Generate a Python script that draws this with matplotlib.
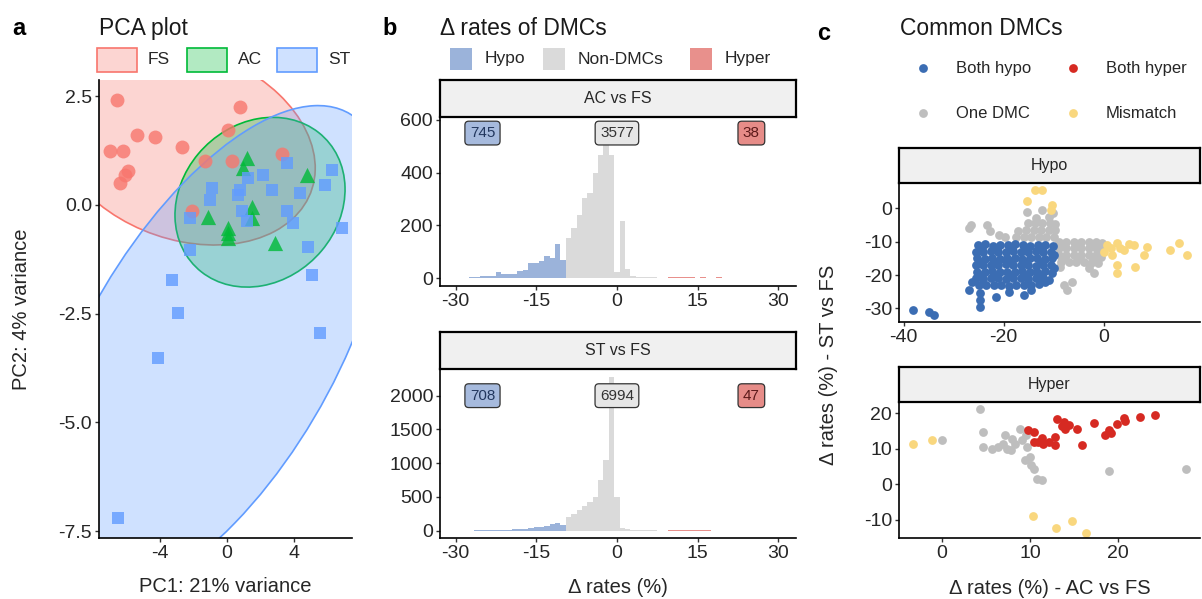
import matplotlib
matplotlib.use('Agg')
import matplotlib.pyplot as plt
from matplotlib.patches import Ellipse, Rectangle

plt.rcParams['font.family'] = ['Liberation Sans', 'DejaVu Sans']
plt.rcParams['axes.linewidth'] = 1.2

# ---------------- a: PCA of the samples
fs_pc1 = [-6.58, -5.39, -4.30, -6.99, -6.19, -5.89, -6.39, -6.09, -2.71, -1.31, 0.28, 0.04, 0.78, 3.26, -2.11]
fs_pc2 = [2.41, 1.61, 1.55, 1.24, 1.24, 0.77, 0.50, 0.69, 1.34, 1.00, 1.00, 1.72, 2.26, 1.16, -0.15]
ac_pc1 = [1.18, 0.95, 4.76, -1.11, 1.47, 1.47, 0.08, 0.08, 0.08, 2.87]
ac_pc2 = [1.07, 0.85, 0.69, -0.27, -0.04, -0.31, -0.54, -0.65, -0.77, -0.88]
st_pc1 = [-0.91, -1.01, 2.17, 1.27, 2.67, 3.56, 4.36, 6.25, 5.85, 6.85, 0.68, 0.88, 1.18,
          3.56, 3.96, -2.21, -2.21, 4.86, 0.78, -3.30, 5.06, -2.93, -4.12, 5.55, -6.51]
st_pc2 = [0.38, 0.11, 0.69, 0.61, 0.34, 0.96, 0.27, 0.80, 0.46, -0.54, 0.23, -0.15, -0.38,
          -0.15, -0.42, -0.31, -1.03, -0.96, 0.34, -1.72, -1.61, -2.48, -3.52, -2.94, -7.20]

# 95% ellipses per group: centre, (width, height), angle
ell_center = {'FS': (-2.57, 1.38), 'AC': (1.97, 0.06), 'ST': (-1.08, -3.41)}
ell_size = {'FS': (15.71, 4.47), 'AC': (10.17, 3.85), 'ST': (22.41, 8.40)}
ell_angle = {'FS': -4.25, 'AC': 3.9, 'ST': 21.7}

group_colors = {'FS': '#F8766D', 'AC': '#00BA38', 'ST': '#619CFF'}

# ---------------- b: histograms of delta methylation rate (1% bins)
ac_bins = list(range(-27, 26))
ac_counts = [4, 5, 9, 9, 9, 23, 15, 15, 15, 25, 32, 57, 57, 63, 85, 76, 130, 70,
             152, 190, 240, 304, 323, 399, 468, 506, 468, 22, 215, 34, 8, 5, 4, 3, 3, 2, 2,
             3, 3, 4, 3, 3, 2, 3, 2, 2, 3, 2, 2, 2, 1, 2, 1]
st_bins = list(range(-27, 21))
st_counts = [3, 4, 5, 6, 8, 10, 12, 15, 18, 25, 30, 40, 50, 60, 75, 100, 120, 90,
             200, 245, 300, 360, 420, 500, 751, 1047, 2281, 504, 40, 20, 12, 8, 6, 5, 4, 3, 3,
             6, 6, 5, 5, 4, 4, 4, 4, 3, 3, 3]
ac_n = {'Hypo': 745, 'Non-DMCs': 3577, 'Hyper': 38}
st_n = {'Hypo': 708, 'Non-DMCs': 6994, 'Hyper': 47}
dmc_cut = 10

# ---------------- c: common DMCs (x = AC vs FS, y = ST vs FS)
hypo_both = [
    (-25.2, -11.0), (-23.7, -10.8), (-22.2, -11.2), (-20.7, -10.9), (-19.2, -11.1), (-17.7, -10.8),
    (-16.2, -11.0), (-14.7, -11.2), (-13.2, -10.9), (-11.7, -11.0), (-10.2, -11.2),
    (-25.6, -13.0), (-24.1, -13.2), (-22.6, -12.9), (-21.1, -13.1), (-19.6, -13.0), (-18.1, -12.8),
    (-16.6, -13.1), (-15.1, -13.0), (-13.6, -12.9), (-12.1, -13.2), (-10.6, -13.0), (-9.9, -14.0),
    (-25.3, -15.0), (-23.8, -15.1), (-22.3, -14.9), (-20.8, -15.2), (-19.3, -15.0), (-17.8, -14.9),
    (-16.3, -15.1), (-14.8, -15.0), (-13.3, -14.8), (-11.8, -15.1), (-10.3, -15.0),
    (-25.6, -17.0), (-24.1, -16.9), (-22.6, -17.1), (-21.1, -17.0), (-19.6, -16.8), (-18.1, -17.1),
    (-16.6, -17.0), (-15.1, -16.9), (-13.6, -17.2), (-12.1, -17.0), (-10.6, -16.9), (-9.9, -18.0),
    (-25.3, -19.0), (-23.8, -19.1), (-22.3, -18.9), (-20.8, -19.0), (-19.3, -19.2), (-17.8, -19.0),
    (-16.3, -18.9), (-14.8, -19.1), (-13.3, -19.0), (-11.8, -18.8), (-10.4, -19.3),
    (-25.6, -21.0), (-24.1, -21.1), (-22.6, -20.9), (-21.1, -21.0), (-19.6, -21.1), (-18.1, -20.9),
    (-16.6, -21.0), (-15.1, -21.2), (-13.6, -21.0), (-12.1, -20.9), (-10.9, -21.4),
    (-25.0, -23.0), (-23.5, -23.1), (-22.0, -22.9), (-20.5, -23.0), (-19.0, -23.2), (-17.5, -23.0),
    (-16.0, -22.9), (-14.5, -23.1), (-13.0, -22.6), (-11.8, -22.2),
    (-24.4, -12.0), (-21.4, -12.1), (-18.4, -11.9), (-15.4, -12.1), (-12.4, -12.0),
    (-24.6, -16.0), (-21.6, -16.1), (-18.6, -15.9), (-15.6, -16.0), (-12.6, -16.1),
    (-24.4, -20.0), (-21.4, -20.1), (-18.4, -19.9), (-15.4, -20.1), (-12.4, -20.0),
    (-27.0, -24.5), (-26.3, -22.0), (-24.8, -25.5), (-24.8, -27.5), (-24.8, -29.5), (-21.5, -26.5),
    (-19.0, -25.0), (-16.0, -26.0), (-14.5, -24.5), (-38.1, -30.5), (-35.0, -31.0), (-34.0, -32.0),
]
hypo_one = [
    (-27.0, -6.0), (-26.5, -5.0), (-23.3, -5.0), (-22.8, -6.8), (-21.0, -8.0), (-19.7, -8.5),
    (-17.5, -8.5), (-16.0, -8.5), (-14.5, -8.5), (-13.0, -8.5), (-11.5, -8.5), (-10.0, -8.5),
    (-17.2, -6.8), (-15.5, -6.5), (-14.0, -6.5), (-12.5, -6.5), (-11.0, -6.5), (-9.8, -6.5),
    (-15.2, -4.5), (-13.8, -4.5), (-12.3, -4.5), (-10.8, -4.5), (-9.8, -4.8),
    (-15.3, -1.0), (-12.3, -0.5), (-11.0, -2.5), (-10.2, -1.5), (-13.5, -2.8),
    (-9.0, -10.0), (-7.5, -10.0), (-6.0, -10.0), (-4.5, -10.0), (-3.0, -10.0), (-1.5, -10.0), (-0.3, -10.5),
    (-9.0, -12.0), (-7.5, -12.0), (-6.0, -12.0), (-4.5, -12.0), (-3.0, -12.0), (-1.5, -12.0), (-0.3, -12.5),
    (-9.0, -14.0), (-7.5, -14.0), (-6.0, -14.0), (-4.5, -14.0), (-3.0, -14.0), (-1.5, -14.0), (-0.5, -14.5),
    (-8.5, -16.0), (-7.0, -16.0), (-5.5, -16.0), (-4.0, -16.0), (-2.5, -16.5), (-1.2, -16.5),
    (-8.2, -11.0), (-5.2, -11.0), (-2.2, -11.0), (-8.2, -15.0), (-5.2, -15.0), (-2.2, -15.0),
    (-3.0, -18.0), (-2.0, -19.5), (-8.8, -17.5), (-8.0, -23.0), (-6.3, -22.0), (-7.3, -24.5),
]
hypo_mismatch = [
    (-13.7, 5.5), (-12.3, 5.5), (-15.3, 2.2), (-10.3, 1.0), (-10.6, -0.5), (0.7, -11.0), (2.7, -10.5),
    (4.0, -12.5), (6.0, -11.0), (1.7, -14.0), (8.7, -11.5), (8.0, -14.0), (2.7, -17.0), (6.3, -17.5),
    (2.7, -19.5), (13.3, -12.5), (15.0, -10.5), (16.7, -14.0), (0.0, -13.0), (3.3, -12.0), (5.0, -10.7),
    (1.5, -12.0),
]
hyper_both = [
    (9.8, 15.4), (10.4, 11.9), (10.9, 11.9), (11.5, 11.5), (12.1, 11.9), (12.8, 11.0), (12.8, 13.3),
    (13.0, 18.4), (13.8, 17.5), (14.0, 15.6), (15.3, 15.6), (15.9, 11.0), (17.2, 17.2), (18.5, 13.8),
    (18.9, 15.4), (19.8, 17.0), (20.6, 18.7), (22.5, 19.0), (24.2, 19.6), (10.5, 14.8), (13.6, 16.5),
    (11.4, 13.0), (19.2, 14.5), (20.8, 17.8), (14.4, 16.8),
]
hyper_one = [
    (0.0, 12.6), (4.3, 21.2), (4.7, 14.8), (4.7, 10.5), (5.7, 10.1), (6.4, 10.5), (7.2, 13.8),
    (7.4, 10.1), (8.3, 11.5), (8.9, 15.7), (9.1, 12.4), (9.4, 6.8), (10.0, 7.7), (10.4, 4.4),
    (10.8, 1.6), (11.3, 1.2), (18.9, 3.7), (27.7, 4.4), (6.9, 11.3), (8.0, 12.8), (9.5, 14.0),
    (9.7, 10.5), (7.9, 9.8), (10.1, 5.5),
]
hyper_mismatch = [(-3.3, 11.3), (-1.1, 12.5), (10.3, -8.8), (12.9, -12.3), (14.7, -10.4), (16.3, -13.7)]

W, H = 1202, 599
fig = plt.figure(figsize=(W / 100, H / 100), dpi=100)


def px_axes(left, top, right, bottom):
    return fig.add_axes([left / W, 1 - bottom / H, (right - left) / W, (bottom - top) / H])


def style(ax, size=14):
    for s in ('top', 'right'):
        ax.spines[s].set_visible(False)
    ax.tick_params(length=3, width=1, color='#333333', labelsize=size, labelcolor='#262626', pad=2)


def strip(left, top, right, bottom, label):
    sa = px_axes(left, top, right, bottom)
    sa.set_facecolor('#F0F0F0')
    for s in sa.spines.values():
        s.set_linewidth(1.6)
        s.set_color('black')
    sa.set_xticks([])
    sa.set_yticks([])
    sa.text(0.5, 0.5, label, ha='center', va='center', fontsize=11.5, color='#262626',
            transform=sa.transAxes)


# ---- panel a
ax_a = px_axes(99, 80, 352, 538)
style(ax_a)
for g in ('FS', 'AC', 'ST'):
    w, h = ell_size[g]
    ax_a.add_patch(Ellipse(ell_center[g], w, h, angle=ell_angle[g], facecolor=group_colors[g],
                           alpha=0.3, lw=0, zorder=2))
    ax_a.add_patch(Ellipse(ell_center[g], w, h, angle=ell_angle[g], facecolor='none',
                           edgecolor=group_colors[g], lw=1.2, zorder=2))
ax_a.scatter(fs_pc1, fs_pc2, marker='o', s=100, color=group_colors['FS'], alpha=0.8, lw=0, zorder=3)
ax_a.scatter(ac_pc1, ac_pc2, marker='^', s=120, color=group_colors['AC'], alpha=0.8, lw=0, zorder=3)
ax_a.scatter(st_pc1, st_pc2, marker='s', s=85, color=group_colors['ST'], alpha=0.8, lw=0, zorder=3)
ax_a.set_xlim(-7.64, 7.46)
ax_a.set_ylim(-7.66, 2.87)
ax_a.set_xticks([-4, 0, 4])
ax_a.set_yticks([2.5, 0.0, -2.5, -5.0, -7.5])
ax_a.set_yticklabels(['2.5', '0.0', '-2.5', '-5.0', '-7.5'])
ax_a.set_xticklabels(['-4', '0', '4'])
ax_a.set_xlabel('PC1: 21% variance', fontsize=14.5, color='#262626')
ax_a.xaxis.set_label_coords(0.5, -0.085)
ax_a.set_ylabel('PC2: 4% variance', fontsize=14.5, color='#262626')
ax_a.yaxis.label.set_va('center')
ax_a.yaxis.set_label_coords(-0.305, 0.5)

# ---- panel b
hist_colors = {'Hypo': '#9BB3DA', 'Non-DMCs': '#DADADA', 'Hyper': '#E8908C'}
label_style = {'Hypo': ('#A6BADD', '#22375E'), 'Non-DMCs': ('#E6E6E6', '#333333'),
               'Hyper': ('#E68C88', '#5C1A1A')}


def dmc_class(x):
    if x <= -dmc_cut:
        return 'Hypo'
    if x >= dmc_cut:
        return 'Hyper'
    return 'Non-DMCs'


def histogram(ax, bins, counts, totals, label_y):
    ax.bar(bins, counts, width=1.0, color=[hist_colors[dmc_class(b)] for b in bins], lw=0)
    for cls, xpos in (('Hypo', -25), ('Non-DMCs', 0), ('Hyper', 25)):
        fc, tc = label_style[cls]
        ax.text(xpos, label_y, str(totals[cls]), ha='center', va='center', fontsize=11, color=tc,
                bbox=dict(boxstyle='round,pad=0.32,rounding_size=0.25', fc=fc, ec='#333333', lw=0.9))
    ax.set_xlim(-32.9, 33.3)
    ax.set_xticks([-30, -15, 0, 15, 30])
    ax.set_xticklabels(['-30', '-15', '0', '15', '30'])


ax_b1 = px_axes(440, 117, 796, 286)
style(ax_b1)
histogram(ax_b1, ac_bins, ac_counts, ac_n, 550)
ax_b1.set_ylim(-30, 611)
ax_b1.set_yticks([0, 200, 400, 600])
strip(440, 80, 796, 117, 'AC vs FS')

ax_b2 = px_axes(440, 369, 796, 538)
style(ax_b2)
histogram(ax_b2, st_bins, st_counts, st_n, 2000)
ax_b2.set_ylim(-108, 2395)
ax_b2.set_yticks([0, 500, 1000, 1500, 2000])
ax_b2.set_xlabel('\u0394 rates (%)', fontsize=14.5, color='#262626')
ax_b2.xaxis.set_label_coords(0.5, -0.235)
strip(440, 332, 796, 369, 'ST vs FS')

# ---- panel c
dmc_colors = {'Both hypo': '#3B6DB3', 'Both hyper': '#D62A22', 'One DMC': '#BEBEBE', 'Mismatch': '#F9D77E'}


def scatter(ax, pts, color):
    xs, ys = zip(*pts)
    ax.scatter(xs, ys, s=40, color=color, lw=0)


ax_c1 = px_axes(899, 183, 1200, 322)
style(ax_c1)
scatter(ax_c1, hypo_one, dmc_colors['One DMC'])
scatter(ax_c1, hypo_mismatch, dmc_colors['Mismatch'])
scatter(ax_c1, hypo_both, dmc_colors['Both hypo'])
ax_c1.set_xlim(-40.9, 19.3)
ax_c1.set_ylim(-34.1, 7.6)
ax_c1.set_xticks([-40, -20, 0])
ax_c1.set_xticklabels(['-40', '-20', '0'])
ax_c1.set_yticks([0, -10, -20, -30])
ax_c1.set_yticklabels(['0', '-10', '-20', '-30'])
strip(899, 148, 1200, 183, 'Hypo')

ax_c2 = px_axes(899, 402, 1200, 538)
style(ax_c2)
scatter(ax_c2, hyper_one, dmc_colors['One DMC'])
scatter(ax_c2, hyper_mismatch, dmc_colors['Mismatch'])
scatter(ax_c2, hyper_both, dmc_colors['Both hyper'])
ax_c2.set_xlim(-4.84, 29.25)
ax_c2.set_ylim(-15.1, 23.2)
ax_c2.set_xticks([0, 10, 20])
ax_c2.set_yticks([20, 10, 0, -10])
ax_c2.set_yticklabels(['20', '10', '0', '-10'])
ax_c2.set_xlabel('\u0394 rates (%) - AC vs FS', fontsize=14.5, color='#262626')
ax_c2.xaxis.set_label_coords(0.5, -0.30)
strip(899, 367, 1200, 402, 'Hyper')

# ---- titles, legends and shared labels in figure pixels
ov = fig.add_axes([0, 0, 1, 1])
ov.set_xlim(0, W)
ov.set_ylim(H, 0)
ov.axis('off')

for letter, x, y in (('a', 12, 35), ('b', 382, 35), ('c', 817, 40)):
    ov.text(x, y, letter, fontsize=17, fontweight='bold', va='baseline', ha='left')
for title, x in (('PCA plot', 99), ('\u0394 rates of DMCs', 440), ('Common DMCs', 900)):
    ov.text(x, 35, title, fontsize=16.5, va='baseline', ha='left', color='#1a1a1a')

for g, x in (('FS', 97), ('AC', 187), ('ST', 277)):
    ov.add_patch(Rectangle((x, 48), 40, 24, facecolor=group_colors[g], alpha=0.3, lw=0))
    ov.add_patch(Rectangle((x, 48), 40, 24, facecolor='none', edgecolor=group_colors[g], lw=1.2))
    ov.text(x + 51, 60, g, fontsize=12.5, va='center', ha='left', color='#262626')

for cls, x in (('Hypo', 450), ('Non-DMCs', 543), ('Hyper', 690)):
    ov.add_patch(Rectangle((x, 48), 22, 22, facecolor=hist_colors[cls], lw=0))
    ov.text(x + 35, 59, cls, fontsize=12.5, va='center', ha='left', color='#262626')

for name, x, y in (('Both hypo', 923, 68), ('Both hyper', 1073, 68), ('One DMC', 923, 113),
                   ('Mismatch', 1073, 113)):
    ov.scatter([x], [y], s=40, color=dmc_colors[name], lw=0)
    ov.text(x + 33, y, name, fontsize=12, va='center', ha='left', color='#262626')

ov.text(829, 365, '\u0394 rates (%) - ST vs FS', rotation=90, fontsize=14.5, ha='center', va='center',
        color='#262626')

fig.savefig('out.png', dpi=100)
